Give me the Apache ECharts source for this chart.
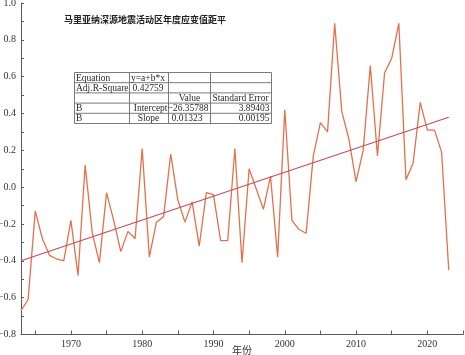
<!DOCTYPE html>
<html>
<head>
<meta charset="utf-8">
<script src="https://cdn.jsdelivr.net/npm/echarts@6/dist/echarts.min.js"></script>
<style>
html,body{margin:0;padding:0;background:#fff;}
#chart{width:465px;height:355px;}
</style>
</head>
<body>
<div id="chart"></div>
<script>
// ---- data ----
const years = [1963,1964,1965,1966,1967,1968,1969,1970,1971,1972,1973,1974,1975,1976,1977,1978,1979,1980,1981,1982,1983,1984,1985,1986,1987,1988,1989,1990,1991,1992,1993,1994,1995,1996,1997,1998,1999,2000,2001,2002,2003,2004,2005,2006,2007,2008,2009,2010,2011,2012,2013,2014,2015,2016,2017,2018,2019,2020,2021,2022,2023];
const anomaly = [-0.67,-0.61,-0.13,-0.28,-0.37,-0.39,-0.40,-0.18,-0.48,0.12,-0.25,-0.41,-0.03,-0.18,-0.35,-0.24,-0.28,0.21,-0.38,-0.19,-0.16,0.18,-0.07,-0.19,-0.08,-0.32,-0.03,-0.04,-0.29,-0.29,0.21,-0.41,0.10,-0.01,-0.12,0.06,-0.38,0.42,-0.18,-0.23,-0.25,0.17,0.35,0.30,0.89,0.41,0.26,0.03,0.20,0.66,0.17,0.62,0.70,0.89,0.04,0.13,0.46,0.31,0.31,0.19,-0.45];
const trendYears = [1963, 2023];
const trendValues = [-0.40, 0.38];
const xLabelYears = [1970,1980,1990,2000,2010,2020];
const xTickYears = [1965,1970,1975,1980,1985,1990,1995,2000,2005,2010,2015,2020,2025];
const titleText = '马里亚纳深源地震活动区年度应变值距平';
const xName = '年份';
const tableRows = [
  ['Equation','y=a+b*x','',''],
  ['Adj.R-Square','0.42759','',''],
  ['','','Value','Standard Error'],
  ['B','Intercept','\u221226.35788','3.89403'],
  ['B','Slope','0.01323','0.00195']
];

// ---- layout of table (style only) ----
const colX = [74.5, 129.5, 168.5, 210.5, 271.5];
const rowY = [72.5, 82.7, 92.9, 103.1, 113.3, 123.5];
const cellAlign = [
  [['left',76],['left',131],['left',0],['left',0]],
  [['left',76],['center',148],['left',0],['left',0]],
  [['left',76],['left',131],['center',189.5],['center',240.5]],
  [['left',76],['right',167.5],['right',208.5],['right',269.5]],
  [['left',76],['center',148.5],['left',171.5],['right',269.5]]
];
const tableEls = [];
tableEls.push({type:'rect', shape:{x:colX[0], y:rowY[0], width:colX[4]-colX[0], height:rowY[5]-rowY[0]}, style:{fill:'#fff', stroke:'#7a7a7a', lineWidth:1}, z:10});
for (let i=1;i<rowY.length-1;i++) tableEls.push({type:'line', shape:{x1:colX[0],y1:rowY[i],x2:colX[4],y2:rowY[i]}, style:{stroke:'#7a7a7a',lineWidth:1}, z:11});
for (let j=1;j<colX.length-1;j++) tableEls.push({type:'line', shape:{x1:colX[j],y1:rowY[0],x2:colX[j],y2:rowY[5]}, style:{stroke:'#7a7a7a',lineWidth:1}, z:11});
tableRows.forEach((row,i)=>{
  row.forEach((t,j)=>{
    if(!t) return;
    const a = cellAlign[i][j];
    tableEls.push({type:'text', x:a[1], y:(rowY[i]+rowY[i+1])/2+0.5, z:12, style:{text:t, fontFamily:'Liberation Serif', fontSize:9.5, fill:'#2a2a2a', align:a[0], verticalAlign:'middle'}});
  });
});

const chart = echarts.init(document.getElementById('chart'), null, {renderer:'canvas'});
const axisColor = '#5a5a5a';
chart.setOption({
  animation:false,
  backgroundColor:'#fff',
  title:{text:titleText, left:64, top:15.5, padding:0, textStyle:{fontFamily:'Noto Sans CJK SC', fontSize:9, fontWeight:'bold', color:'#222'}},
  grid:{left:21, right:2, top:3, bottom:20.5, containLabel:false, outerBoundsMode:'none'},
  xAxis:{
    type:'value', min:1963, max:2025,
    name:xName, nameLocation:'middle', nameGap:11, nameMoveOverlap:false,
    nameTextStyle:{fontFamily:'Noto Sans CJK SC', fontSize:10, color:'#333', verticalAlign:'top'},
    axisLine:{onZero:false, lineStyle:{color:axisColor, width:1}},
    axisTick:{inside:true, length:4, customValues:xTickYears, lineStyle:{color:axisColor}},
    axisLabel:{customValues:xLabelYears, margin:5, fontFamily:'Liberation Serif', fontSize:10, color:'#333', formatter:v=>String(Math.round(v))},
    splitLine:{show:false}
  },
  yAxis:{
    type:'value', min:-0.8, max:1.0, interval:0.2,
    axisLine:{show:true, onZero:false, lineStyle:{color:axisColor, width:1}},
    axisTick:{show:true, inside:true, length:3, lineStyle:{color:axisColor}},
    minorTick:{show:true, splitNumber:2, length:3, lineStyle:{color:axisColor}},
    axisLabel:{margin:5, fontFamily:'Liberation Serif', fontSize:10, color:'#333',
      formatter:v=>{const s=(Math.round(v*10)/10).toFixed(1); return s.replace('-','\u2212');}},
    splitLine:{show:false}
  },
  series:[
    {type:'line', data:years.map((y,i)=>[y,anomaly[i]]), symbol:'none', lineStyle:{color:'#E2714C', width:1.3}, z:2},
    {type:'line', data:trendYears.map((y,i)=>[y,trendValues[i]]), symbol:'none', lineStyle:{color:'#C84A5C', width:1.1}, z:3}
  ],
  graphic:{elements:tableEls}
});
</script>
</body>
</html>
